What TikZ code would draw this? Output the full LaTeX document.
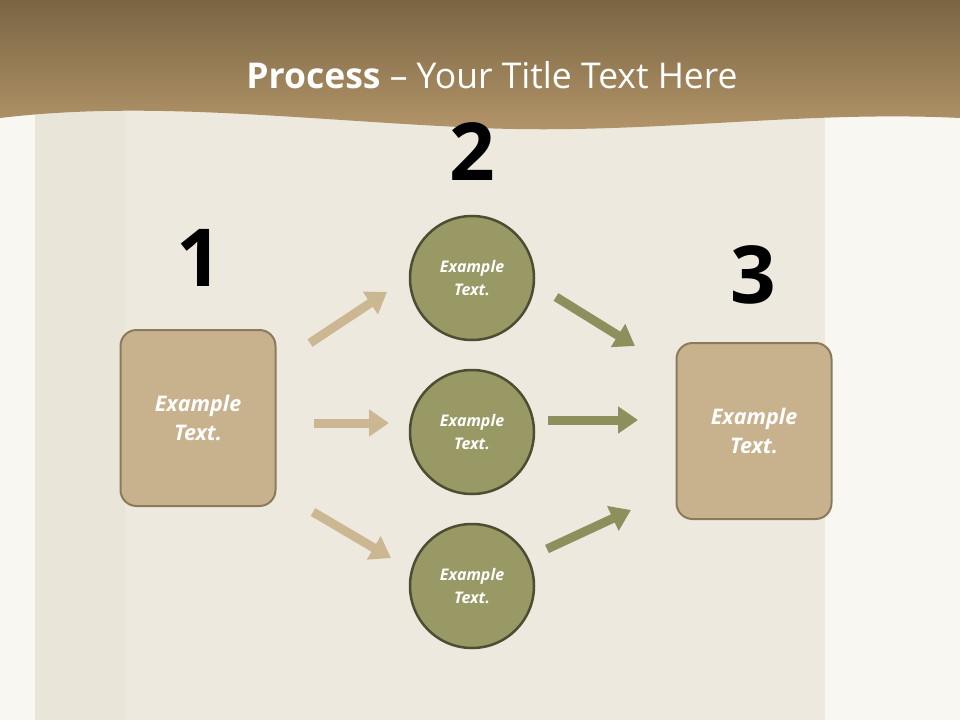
\documentclass[tikz,border=0pt]{standalone}
\usepackage{fontspec}
\setmainfont{Open Sans}
\usetikzlibrary{arrows.meta}
\definecolor{bg}{HTML}{F8F7F2}
\definecolor{bag}{HTML}{EEE9DE}
\definecolor{bagl}{HTML}{EAE5D9}
\definecolor{bant}{HTML}{7A6543}
\definecolor{banb}{HTML}{B4966A}
\definecolor{tan}{HTML}{C8B18D}
\definecolor{tanb}{HTML}{8B7A5E}
\definecolor{olive}{HTML}{999966}
\definecolor{oliveb}{HTML}{4D4D33}
\definecolor{tarrow}{HTML}{CBB792}
\definecolor{oarrow}{HTML}{8F8F5E}
\tikzset{
 boxn/.style={draw=tanb,line width=2pt,fill=tan,rounded corners=16pt,minimum width=155pt,minimum height=176pt,text=white,font=\bfseries\itshape\fontsize{21.5}{29}\selectfont,align=center},
 circn/.style={circle,draw=oliveb,line width=2.5pt,fill=olive,minimum size=124pt,text=white,font=\bfseries\itshape\fontsize{16}{23}\selectfont,align=center},
 numn/.style={font=\bfseries\fontsize{80}{90}\selectfont,text=black},
 tarr/.style={draw=tarrow,line width=9pt,-{Triangle[length=20pt,width=26pt]}},
 oarr/.style={draw=oarrow,line width=9pt,-{Triangle[length=20pt,width=26pt]}},
}
\begin{document}
\begin{tikzpicture}[x=1pt,y=-1pt]
\useasboundingbox (0,0) rectangle (960,720);
\fill[bg] (0,0) rectangle (960,720);
\fill[bag] (35,100) rectangle (825,720);
\fill[bagl] (35,100) rectangle (125,720);
\shade[top color=bant,bottom color=banb] (0,0) -- (960,0) -- (960,118) .. controls (800,110) and (650,135) .. (480,128) .. controls (300,120) and (150,100) .. (0,118) -- cycle;
\node[text=white,font=\fontsize{35.5}{42}\selectfont] (title) at (492,75) {\textbf{Process} – Your Title Text Here};
\node[numn] (n1) at (199,258) {1};
\node[numn] (n2) at (472,152) {2};
\node[numn] (n3) at (753,275) {3};
\node[boxn] (b1) at (198,418) {Example\\Text.};
\node[boxn] (b3) at (754,431) {Example\\Text.};
\node[circn] (c1) at (472,278) {Example\\Text.};
\node[circn] (c2) at (472,432) {Example\\Text.};
\node[circn] (c3) at (472,586) {Example\\Text.};
\coordinate (a1s) at (310,343); \coordinate (a1e) at (387,292);
\coordinate (a2s) at (314,423); \coordinate (a2e) at (389,423);
\coordinate (a3s) at (313,512); \coordinate (a3e) at (391,558);
\coordinate (a4s) at (556,297); \coordinate (a4e) at (635,346);
\coordinate (a5s) at (548,420); \coordinate (a5e) at (638,420);
\coordinate (a6s) at (547,549); \coordinate (a6e) at (631,510);
\draw[tarr] (a1s) -- (a1e);
\draw[tarr] (a2s) -- (a2e);
\draw[tarr] (a3s) -- (a3e);
\draw[oarr] (a4s) -- (a4e);
\draw[oarr] (a5s) -- (a5e);
\draw[oarr] (a6s) -- (a6e);
\end{tikzpicture}
\end{document}
